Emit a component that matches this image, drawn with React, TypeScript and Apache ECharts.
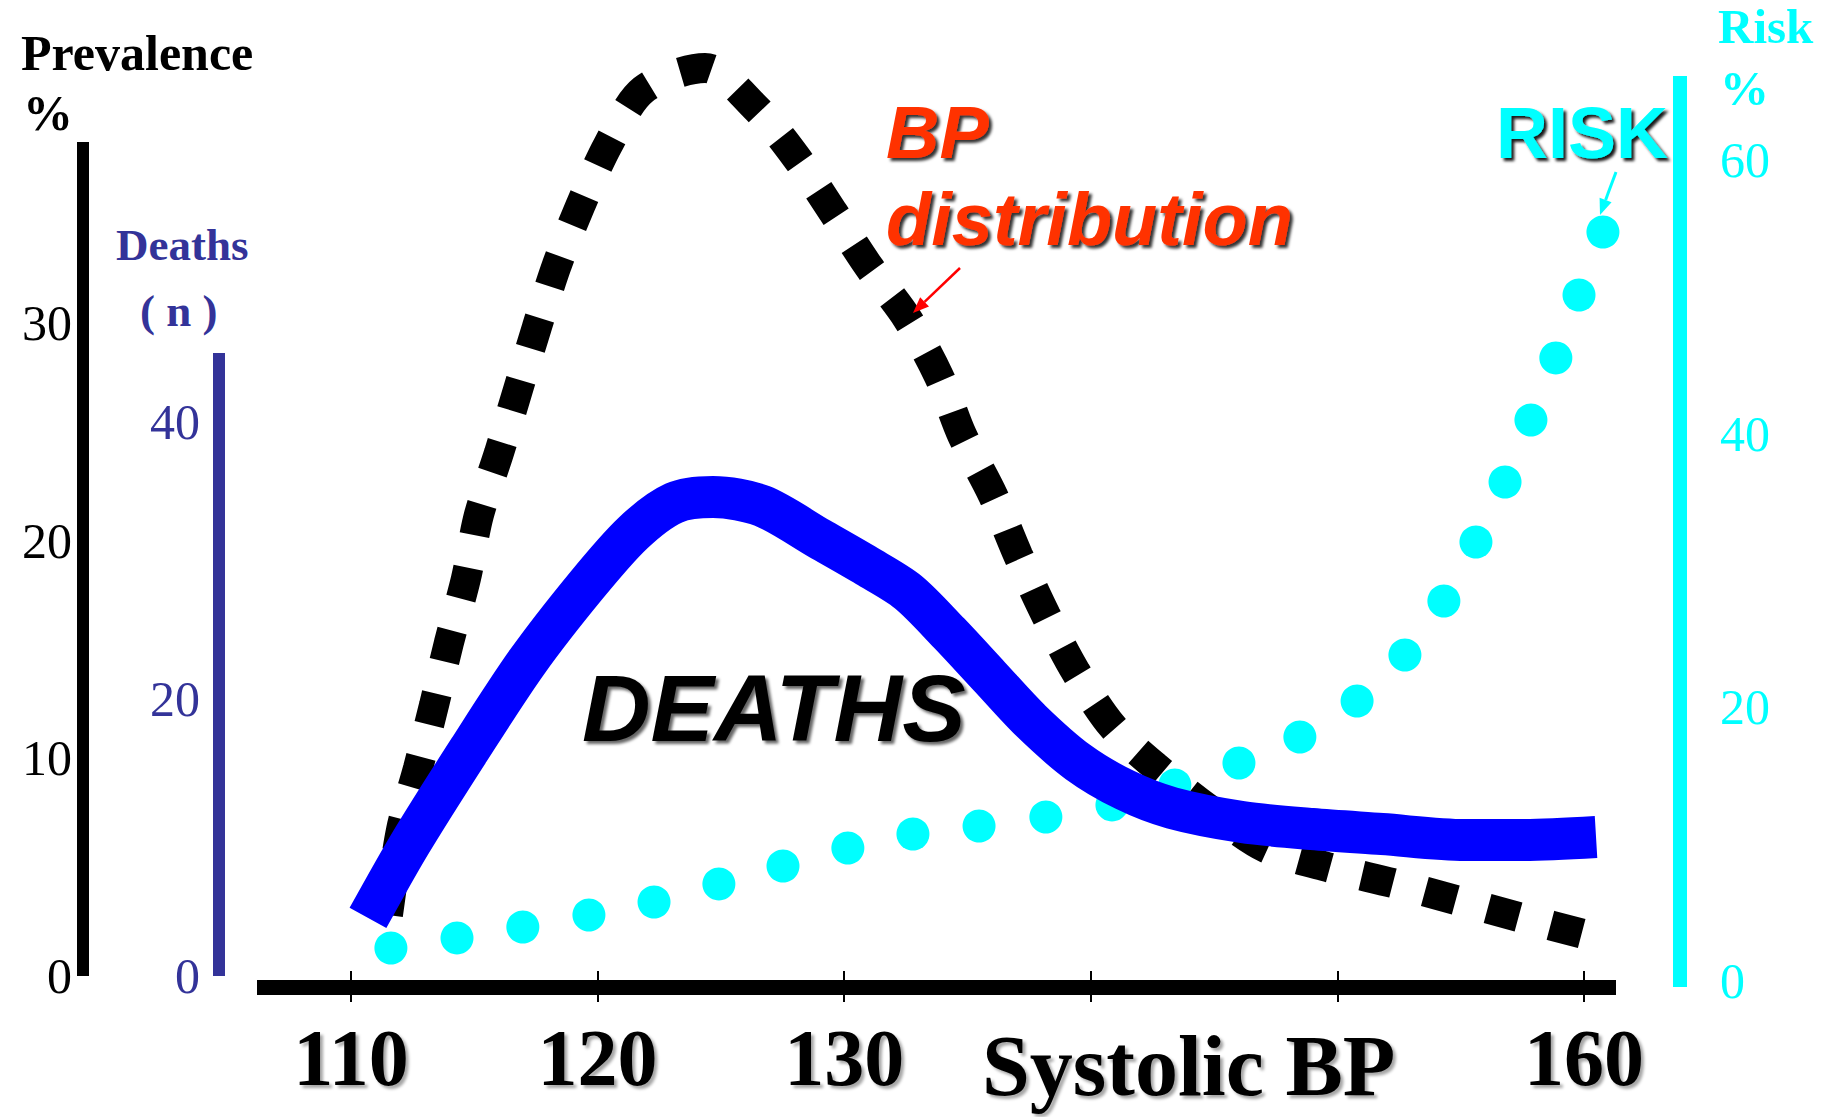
import React, { useEffect, useRef } from "react";
import * as echarts from "echarts";

// ---------- data ----------
const xTicks = [110, 120, 130, 140, 150, 160];
const xTickLabels = [110, 120, 130, 160];
const prevalenceTicks = [0, 10, 20, 30];
const deathTicks = [0, 20, 40];
const riskTicks = [0, 20, 40, 60];

// BP distribution (prevalence %)
const bpX = [111.5, 112.03, 112.72, 113.37, 113.97, 114.66, 115.19, 116.0, 116.77, 117.54, 118.35, 119.33, 120.42, 121.84, 124.36, 126.38, 128.05, 129.55, 131.01, 132.55, 133.84, 134.78, 136.03, 137.05, 138.18, 139.4, 140.9, 142.64, 144.83, 147.1, 149.74, 152.25, 154.81, 157.36, 160.45];
const bpY = [2.8, 6.71, 9.55, 12.45, 15.3, 18.24, 21.18, 24.02, 26.92, 29.81, 32.66, 35.46, 38.17, 40.7, 41.71, 39.92, 37.62, 35.09, 32.57, 30.22, 27.56, 24.85, 22.09, 19.34, 16.58, 13.96, 11.44, 9.6, 7.63, 5.88, 4.96, 4.27, 3.49, 2.71, 1.79];

// Deaths (n)
const deathsX = [110.69, 112.39, 114.79, 117.14, 119.53, 121.44, 123.1, 124.68, 126.67, 129.02, 130.92, 132.59, 134.25, 135.91, 137.58, 139.48, 141.39, 143.29, 146.13, 148.97, 151.81, 155.17, 157.53, 160.49];
const deathsY = [4.19, 9.53, 16.32, 22.67, 28.16, 31.99, 34.15, 34.58, 33.94, 31.55, 29.6, 27.73, 24.77, 21.59, 18.41, 15.45, 13.43, 12.13, 11.12, 10.61, 10.25, 9.82, 9.82, 10.04];

// Risk (%)
const riskX = [111.62, 114.3, 116.97, 119.65, 122.29, 124.92, 127.52, 130.15, 132.79, 135.47, 138.18, 140.86, 143.41, 146.01, 148.48, 150.8, 152.74, 154.32, 155.62, 156.8, 157.85, 158.86, 159.8, 160.77];
const riskY = [2.38, 3.12, 3.92, 4.8, 5.75, 7.07, 8.38, 9.7, 10.72, 11.31, 11.97, 12.85, 14.31, 15.92, 17.82, 20.45, 23.82, 27.77, 32.08, 36.47, 41.01, 45.55, 50.15, 54.76];

// ---------- styling ----------
const SERIF = '"Liberation Serif", "Times New Roman", serif';
const SANS = '"Liberation Sans", Arial, sans-serif';
const NAVY = "#333399";
const CYAN = "#00ffff";
const X_MIN = 106.19;
const X_MAX = 161.3;

function arrow(x1: number, y1: number, x2: number, y2: number, color: string, w: number, head: number) {
  const dx = x2 - x1;
  const dy = y2 - y1;
  const len = Math.sqrt(dx * dx + dy * dy);
  const ux = dx / len;
  const uy = dy / len;
  const bx = x2 - ux * head;
  const by = y2 - uy * head;
  const px = -uy * head * 0.4;
  const py = ux * head * 0.4;
  return [
    { type: "line", z: 100, shape: { x1, y1, x2: bx, y2: by }, style: { stroke: color, lineWidth: w } },
    { type: "polygon", z: 100, shape: { points: [[x2, y2], [bx + px, by + py], [bx - px, by - py]] }, style: { fill: color } },
  ];
}

function label(text: string, x: number, baseline: number, size: number, font: string, color: string, extra: any = {}) {
  return {
    type: "text",
    z: 100,
    x,
    y: baseline - 0.34 * size,
    style: {
      text,
      font: `${extra.italic ? "italic " : ""}bold ${size}px ${font}`,
      fill: color,
      align: "left",
      verticalAlign: "middle",
      textAlign: "left",
      textVerticalAlign: "middle",
      ...(extra.shadow
        ? { textShadowColor: extra.shadow, textShadowBlur: 3, textShadowOffsetX: 3, textShadowOffsetY: 3 }
        : {}),
    },
  };
}

export default function App() {
  const ref = useRef<HTMLDivElement>(null);

  useEffect(() => {
    if (!ref.current) return;
    const chart = echarts.init(ref.current, undefined, { renderer: "svg" });

    const bpData = bpX.map((x, i) => [x, bpY[i]]);
    const deathsData = deathsX.map((x, i) => [x, deathsY[i]]);
    const riskData = riskX.map((x, i) => [x, riskY[i]]);

    const gridLR = { left: 257, right: 221 };
    const hiddenSplit = { show: false };

    const option: any = {
      animation: false,
      backgroundColor: "#ffffff",
      grid: [
        { ...gridLR, top: 142, bottom: 141 },
        { ...gridLR, top: 353, bottom: 141 },
        { ...gridLR, top: 76, bottom: 130 },
      ],
      xAxis: [
        {
          gridIndex: 0,
          type: "value",
          min: X_MIN,
          max: X_MAX,
          offset: 11,
          axisLine: { show: false, onZero: false },
          axisTick: { show: true, inside: true, length: 16, customValues: xTicks, lineStyle: { color: "#000", width: 2 } },
          axisLabel: { show: false },
          splitLine: hiddenSplit,
        },
        { gridIndex: 1, type: "value", min: X_MIN, max: X_MAX, show: false, axisLine: { onZero: false }, splitLine: hiddenSplit },
        {
          gridIndex: 2,
          type: "value",
          min: X_MIN,
          max: X_MAX,
          axisLine: { show: true, onZero: false, lineStyle: { color: "#000", width: 15, cap: "butt" } },
          axisTick: { show: true, length: 15, customValues: xTicks, lineStyle: { color: "#000", width: 2 } },
          axisLabel: {
            customValues: xTickLabels,
            color: "#000",
            fontSize: 80,
            fontWeight: "bold",
            fontFamily: SERIF,
            margin: 31,
            textShadowColor: "rgba(0,0,0,0.35)",
            textShadowBlur: 3,
            textShadowOffsetX: 3,
            textShadowOffsetY: 3,
          },
          splitLine: hiddenSplit,
        },
      ],
      yAxis: [
        {
          gridIndex: 0,
          type: "value",
          min: 0,
          max: 38.31,
          position: "left",
          offset: 174,
          axisLine: { show: true, onZero: false, lineStyle: { color: "#000", width: 12, cap: "butt" } },
          axisTick: { show: false },
          axisLabel: { customValues: prevalenceTicks, color: "#000", fontSize: 50, fontFamily: SERIF, margin: 11 },
          splitLine: hiddenSplit,
        },
        {
          gridIndex: 1,
          type: "value",
          min: 0,
          max: 44.98,
          position: "left",
          offset: 38,
          axisLine: { show: true, onZero: false, lineStyle: { color: NAVY, width: 12, cap: "butt" } },
          axisTick: { show: false },
          axisLabel: { customValues: deathTicks, color: NAVY, fontSize: 50, fontFamily: SERIF, margin: 19 },
          splitLine: hiddenSplit,
        },
        {
          gridIndex: 2,
          type: "value",
          min: -0.47,
          max: 66.17,
          position: "right",
          offset: 64,
          axisLine: { show: true, onZero: false, lineStyle: { color: CYAN, width: 14, cap: "butt" } },
          axisTick: { show: false },
          axisLabel: { customValues: riskTicks, color: CYAN, fontSize: 50, fontFamily: SERIF, margin: 40 },
          splitLine: hiddenSplit,
        },
      ],
      series: [
        {
          name: "BP distribution",
          type: "line",
          xAxisIndex: 0,
          yAxisIndex: 0,
          data: bpData,
          smooth: 0.3,
          showSymbol: false,
          clip: false,
          silent: true,
          lineStyle: { color: "#000", width: 30, type: [32, 33], cap: "butt" },
        },
        {
          name: "Deaths",
          type: "line",
          xAxisIndex: 1,
          yAxisIndex: 1,
          data: deathsData,
          smooth: 0.3,
          showSymbol: false,
          clip: false,
          silent: true,
          lineStyle: { color: "#0000ff", width: 42, cap: "butt", join: "round" },
        },
        {
          name: "Risk",
          type: "scatter",
          xAxisIndex: 2,
          yAxisIndex: 2,
          data: riskData,
          symbol: "circle",
          symbolSize: 33,
          clip: false,
          silent: true,
          itemStyle: { color: CYAN, opacity: 1 },
        },
      ],
      graphic: [
        label("Prevalence", 21, 70, 50, SERIF, "#000"),
        label("%", 23, 130, 50, SERIF, "#000"),
        label("Deaths", 116, 260, 45, SERIF, NAVY),
        label("( n )", 140, 326, 45, SERIF, NAVY),
        label("Risk", 1718, 43, 49, SERIF, CYAN),
        label("%", 1720, 105, 49, SERIF, CYAN),
        label("BP", 886, 158, 74, SANS, "#ff3300", { italic: true, shadow: "rgba(0,0,0,0.8)" }),
        label("distribution", 886, 245, 74, SANS, "#ff3300", { italic: true, shadow: "rgba(0,0,0,0.8)" }),
        label("RISK", 1496, 157, 72, SANS, CYAN, { shadow: "rgba(0,0,0,0.9)" }),
        label("DEATHS", 582, 740, 95, SANS, "#000", { italic: true, shadow: "rgba(0,0,0,0.6)" }),
        label("Systolic BP", 982, 1095, 86, SERIF, "#000", { shadow: "rgba(0,0,0,0.35)" }),
        ...arrow(960, 268, 913, 313, "#ff0000", 2.5, 16),
        ...arrow(1616, 172, 1600, 215, CYAN, 3, 16),
      ],
    };

    chart.setOption(option);
    return () => chart.dispose();
  }, []);

  return (
    <div
      ref={ref}
      style={{ position: "absolute", left: 0, top: 0, width: 1837, height: 1117, background: "#fff" }}
    />
  );
}
